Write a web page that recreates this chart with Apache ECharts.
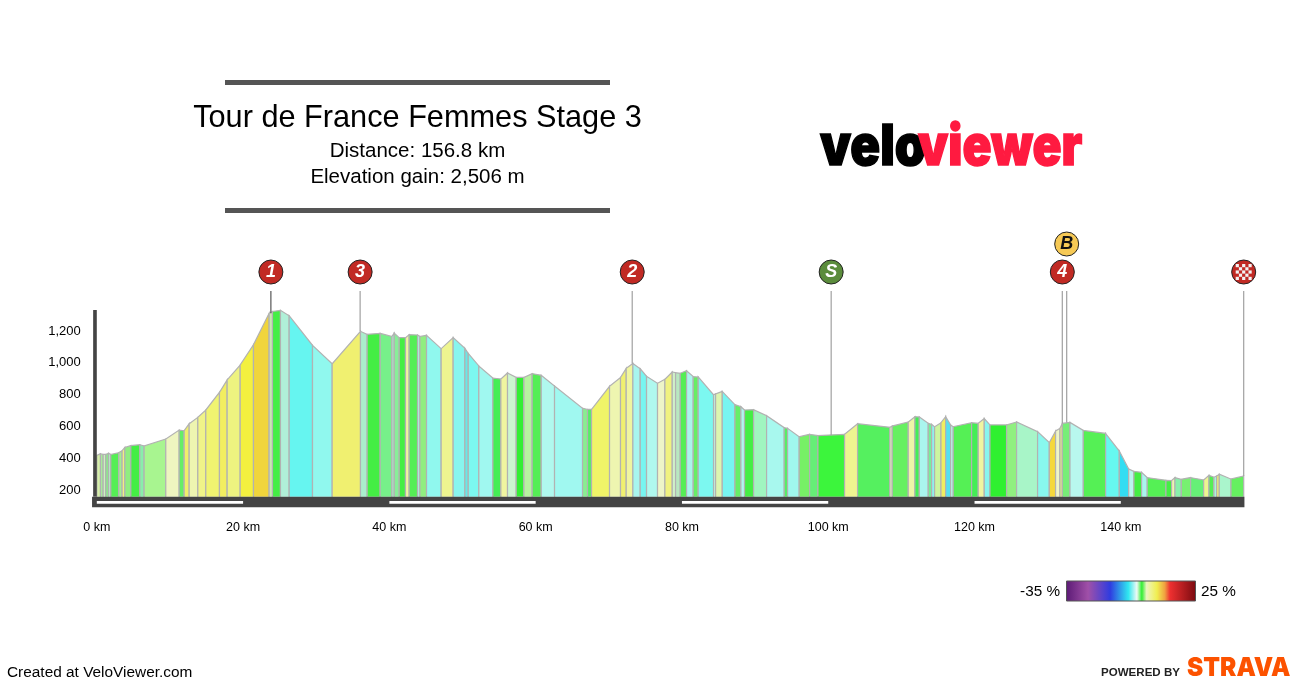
<!DOCTYPE html>
<html><head><meta charset="utf-8">
<style>html,body{margin:0;padding:0;background:#fff}#c{width:1306px;height:690px}</style>
<script src="https://cdn.jsdelivr.net/npm/echarts@6/dist/echarts.min.js"></script>
</head><body><div id="c"></div>
<script>
var distanceKm = [
 0,0.5,0.87,1.23,1.6,1.91,3.0,3.46,3.83,4.65,
 5.88,6.47,9.43,11.26,11.94,12.63,13.81,14.9,16.77,17.82,
 19.6,21.42,23.56,24.02,25.11,26.3,29.49,32.18,36.05,36.96,
 38.74,40.34,40.66,41.34,42.2,42.7,43.85,44.17,45.08,47.08,
 48.72,50.32,50.78,52.23,54.15,55.24,56.15,57.34,58.39,59.52,
 60.76,62.58,66.41,67.09,67.64,70.1,71.6,72.38,73.29,74.29,
 75.16,76.66,77.67,78.67,79.13,79.76,80.63,81.54,82.22,84.32,
 84.6,85.51,87.24,88.06,88.56,89.79,91.57,93.98,94.44,96.03,
 97.45,98.59,102.23,104.01,108.43,108.75,110.94,111.85,112.45,113.67,
 114.13,114.54,115.41,116.05,116.73,117.09,119.6,120.51,121.33,122.11,
 124.38,125.75,128.62,130.22,131.08,131.68,132.0,133.05,134.87,137.92,
 139.79,141.07,141.79,142.84,143.61,146.17,146.94,147.4,148.27,149.54,
 151.32,152.05,152.73,153.1,153.46,155.06,156.8];
var elevationM = [
 418,428,424,424,431,424,435,447,468,479,
 485,477,521,577,573,617,657,703,814,892,
 986,1114,1311,1323,1330,1296,1110,994,1198,1179,
 1185,1166,1187,1158,1158,1177,1175,1166,1173,1089,
 1158,1091,1059,980,904,898,936,908,908,932,
 921,854,714,707,707,852,908,965,996,963,
 915,871,896,942,938,934,950,913,911,799,
 804,820,737,724,703,705,667,592,588,535,
 550,542,550,617,594,602,628,661,659,619,
 613,598,623,661,609,598,623,619,649,609,
 609,628,567,498,571,588,619,625,575,556,
 445,332,317,311,278,261,259,278,267,278,
 263,292,280,288,299,269,288];
var segmentColors = [
 '#d6f0a8','#a8ee9a','#cdf0c0','#88ee88','#b8e8c8','#55ee55','#a0f090','#f0f080','#90ee80','#44ee44',
 '#88eeaa','#a8f590','#eef5c0','#66ee66','#f0f06a','#eef5b0','#f0f488','#f0f470','#f2ee60','#eef380',
 '#f3f03f','#f0d53c','#c8e8b0','#44ee44','#b0f0d8','#66f5f0','#90f8ee','#f0f070','#aaeecc','#44ee44',
 '#77f08a','#aaeecc','#88ee99','#44ee44','#f0f5a0','#55ee55','#aaf5dd','#90ee80','#90f8ee','#eef590',
 '#88f5ee','#66e8e8','#7cf8f0','#a0f8f0','#44ee55','#f0f5a0','#ccf5d0','#33ee33','#b8f2a0','#55ee55',
 '#b0f8ee','#a0f8f0','#88ee90','#55ee66','#f0f468','#eef5b0','#f0f070','#f0f5a0','#a8f5ee','#77f5f0',
 '#b0f8ee','#eef5c8','#f0f280','#d0f0c8','#b8e8c0','#55ee55','#aaf5ee','#66ee66','#7cf8f0','#c0f0e0',
 '#ddf5b0','#77f5f0','#66ee66','#b0f5ee','#44ee44','#a0f5c0','#a8f8ee','#55ee66','#a0f8ee','#77f066',
 '#66ee77','#3cf53c','#eef590','#55f05f','#eef5c0','#66f060','#eff5a8','#44ee55','#aaf5ee','#77ee99',
 '#90f0ee','#ccf5a0','#f0ee60','#55e0f0','#bbf5ee','#55f055','#44ee55','#f0f5a0','#88f5ee','#2ff030',
 '#90f080','#a8f5c8','#88f8ee','#f5d83c','#eef5c8','#f0f080','#77ee77','#b8f8ee','#55f055','#66f8f0',
 '#33ddf2','#bbf5ee','#44ee44','#aaf5ee','#55f055','#44ee44','#eef5b0','#88f0aa','#77f070','#66f077',
 '#eef590','#55ee55','#aaf5dd','#f0f070','#aaf5cc','#66f060'];
var markerKm     = [23.8, 36.0, 73.2, 100.4, 132.0, 132.6, 156.8];
var markerStemTo = [1311, 1198, 996, 545, 619, 625, 288];
var markerText   = ['1','3','2','S','4','B',''];
var markerKind   = ['kom','kom','kom','sprint','kom','bonus','finish'];
var xTicks = ['0 km','20 km','40 km','60 km','80 km','100 km','120 km','140 km'];
var yTicks = ['200','400','600','800','1,000','1,200'];
var scaleBandsKm = [[0,20],[40,60],[80,100],[120,140]];
var titleText = 'Tour de France Femmes Stage 3';
var subtitleLines = ['Distance: 156.8 km','Elevation gain: 2,506 m'];

var BASE=158, BAR_BOTTOM=91, MARK_M=1571, BONUS_M=1747, STEM_TOP=1452;
var chart = echarts.init(document.getElementById('c'),null,{renderer:'canvas'});
var FONT='"Liberation Sans", Arial, sans-serif';
var kindColor={kom:'#c12a24',sprint:'#5b8c3c',bonus:'#f6c955',finish:'#c12a24'};

var segData = segmentColors.map(function(c,i){return [distanceKm[i],elevationM[i],distanceKm[i+1],elevationM[i+1],i];});

function rect(api,x0,y0,x1,y1,fill){
  var a=api.coord([x0,y0]),b=api.coord([x1,y1]);
  return {type:'rect',shape:{x:a[0],y:a[1],width:b[0]-a[0],height:b[1]-a[1]},style:{fill:fill},silent:true};
}
var option = {
  animation:false,
  grid:{left:96.8,right:62.3,top:203.8,bottom:168.2,containLabel:false},
  xAxis:{type:'value',min:0,max:156.8,interval:20,splitLine:{show:false},axisLine:{show:false},axisTick:{show:false},
    axisLabel:{showMaxLabel:false,showMinLabel:true,color:'#000',fontFamily:FONT,fontSize:12.5,margin:6,verticalAlign:'middle',
      formatter:function(v){return xTicks[v/20]||'';}}},
  yAxis:{type:'value',min:0,max:2000,interval:200,splitLine:{show:false},axisLine:{show:false},axisTick:{show:false},
    axisLabel:{color:'#000',fontFamily:FONT,fontSize:13,margin:16,
      formatter:function(v){return yTicks[v/200-1]||'';}}},
  series:[
   {type:'custom',coordinateSystem:'cartesian2d',clip:false,z:2,silent:true,
    encode:{x:[0,2],y:[1,3]},data:segData,
    renderItem:function(p,api){
      var x0=api.value(0),y0=api.value(1),x1=api.value(2),y1=api.value(3);
      var a=api.coord([x0,y0]),b=api.coord([x1,y1]),c=api.coord([x1,BASE]),d=api.coord([x0,BASE]);
      var col=segmentColors[api.value(4)];
      return {type:'group',children:[
        {type:'polygon',shape:{points:[a,b,c,d]},style:{fill:col,stroke:null}},
        {type:'polyline',shape:{points:[d,a,b,c]},style:{fill:null,stroke:'#b2b2b2',lineWidth:1.2}}
      ]};
    }},
   {type:'custom',coordinateSystem:'cartesian2d',clip:false,z:3,silent:true,
    encode:{x:0,y:1},data:[[0,BASE]],
    renderItem:function(p,api){
      var kids=[rect(api,-0.65,BASE,156.9,BAR_BOTTOM,'#444444'),rect(api,-0.5,1332,0,BASE,'#444444')];
      scaleBandsKm.forEach(function(b){kids.push(rect(api,b[0],131,b[1],114,'#ffffff'));});
      return {type:'group',children:kids};
    }},
   {type:'custom',coordinateSystem:'cartesian2d',clip:false,z:4,silent:true,
    encode:{x:0,y:1},data:markerKm.map(function(k,i){return [k,markerStemTo[i],i];}),
    renderItem:function(p,api){
      var i=api.value(2),k=api.value(0);
      var top=api.coord([k,STEM_TOP]),bot=api.coord([k,api.value(1)]);
      return {type:'group',children:[{type:'line',shape:{x1:top[0],y1:top[1],x2:bot[0],y2:bot[1]},
        style:{stroke:i===0?'#555':'#a0a0a0',lineWidth:1.2}}]};
    }},
   {type:'custom',coordinateSystem:'cartesian2d',clip:false,z:5,silent:true,
    encode:{x:0,y:1},data:markerKm.map(function(k,i){return [k,markerKind[i]==='bonus'?BONUS_M:MARK_M,i];}),
    renderItem:function(p,api){
      var i=api.value(2),kind=markerKind[i];
      var c=api.coord([api.value(0),api.value(1)]);
      var kids=[{type:'circle',shape:{cx:c[0],cy:c[1],r:12},style:{fill:kindColor[kind],stroke:'#222',lineWidth:1}}];
      if(markerText[i]){
        kids.push({type:'text',style:{text:markerText[i],x:c[0],y:c[1]+0.5,align:'center',verticalAlign:'middle',
          font:'italic bold 18px '+FONT,fill:kind==='bonus'?'#111':'#fff'}});
      } else {
        for(var r=-2;r<=2;r++)for(var q=-2;q<=2;q++){
          if((r+q+8)%2===0){
            kids.push({type:'rect',shape:{x:c[0]+q*3.2-1.6,y:c[1]+r*3.2-1.6,width:3.2,height:3.2},style:{fill:'#f2f2f2'}});
          }
        }
      }
      return {type:'group',children:kids};
    }}
  ],
  graphic:[
    {type:'rect',shape:{x:225,y:80,width:385,height:5},style:{fill:'#555'}},
    {type:'rect',shape:{x:225,y:208,width:385,height:5},style:{fill:'#555'}},
    {type:'text',style:{text:titleText,x:417.5,y:118.5,align:'center',verticalAlign:'middle',font:'30.7px '+FONT,fill:'#000'}},
    {type:'text',style:{text:subtitleLines[0],x:417.5,y:151,align:'center',verticalAlign:'middle',font:'20.5px '+FONT,fill:'#000'}},
    {type:'text',style:{text:subtitleLines[1],x:417.5,y:177,align:'center',verticalAlign:'middle',font:'20.5px '+FONT,fill:'#000'}},
    {type:'text',x:820,y:148,scaleX:0.88,style:{text:'velo',x:0,y:0,verticalAlign:'middle',font:'900 56px Inter, '+FONT,fill:'#000',stroke:'#000',lineWidth:1.5}},
    {type:'text',x:918,y:148,scaleX:0.855,style:{text:'viewer',x:0,y:0,verticalAlign:'middle',font:'900 56px Inter, '+FONT,fill:'#ff1a40',stroke:'#ff1a40',lineWidth:1.5}},
    {type:'text',style:{text:'-35 %',x:1060,y:592,align:'right',verticalAlign:'middle',font:'15.3px '+FONT,fill:'#000'}},
    {type:'text',style:{text:'25 %',x:1201,y:592,align:'left',verticalAlign:'middle',font:'15.3px '+FONT,fill:'#000'}},
    {type:'rect',shape:{x:1066.5,y:581,width:129,height:20},style:{stroke:'#555',lineWidth:1,
      fill:new echarts.graphic.LinearGradient(0,0,1,0,[
        {offset:0,color:'#5b1a75'},{offset:0.17,color:'#a050a8'},{offset:0.34,color:'#2f3ce0'},
        {offset:0.48,color:'#30e8f0'},{offset:0.545,color:'#eefaf5'},{offset:0.583,color:'#33ee33'},
        {offset:0.62,color:'#eef5c0'},{offset:0.70,color:'#f0ee50'},{offset:0.76,color:'#f0a040'},
        {offset:0.80,color:'#ee3030'},{offset:1,color:'#7a0a10'}])}},
    {type:'text',style:{text:'Created at VeloViewer.com',x:7,y:672.5,verticalAlign:'middle',font:'15.4px '+FONT,fill:'#000'}},
    {type:'text',x:1101,y:673.5,scaleX:1.1,style:{text:'POWERED BY',x:0,y:0,verticalAlign:'middle',font:'bold 10.5px '+FONT,fill:'#222'}},
    {type:'text',x:1187,y:668,scaleX:0.94,style:{text:'STRAVA',x:0,y:0,verticalAlign:'middle',font:'900 26px Inter, '+FONT,fill:'#fc5200'}}
  ]
};
chart.setOption(option);
</script></body></html>
